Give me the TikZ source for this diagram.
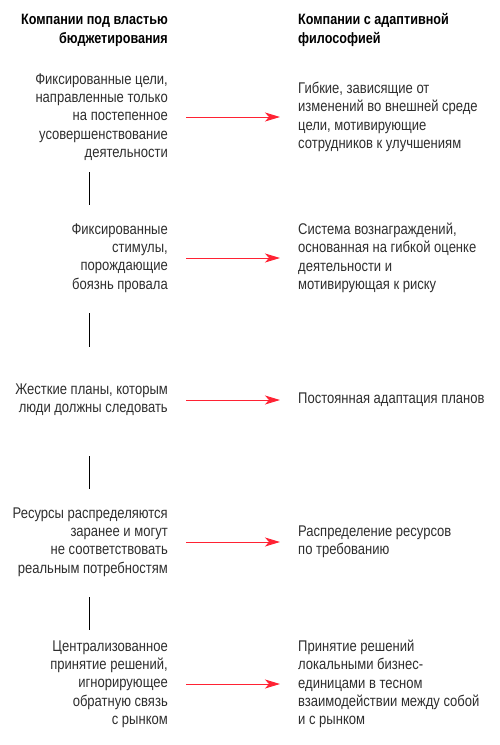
\documentclass[tikz,border=0pt]{standalone}
\usepackage{fontspec}
\setmainfont{Liberation Sans}[FakeStretch=0.84]
\usetikzlibrary{arrows.meta}
\definecolor{txt}{HTML}{2E2E2E}
\definecolor{arr}{HTML}{FF2233}
\tikzset{
  x=1pt, y=-1pt,
  lefttxt/.style={anchor=east, align=right, inner sep=0pt, text=txt,
    font=\fontsize{15.5}{18.3}\selectfont},
  righttxt/.style={anchor=west, align=left, inner sep=0pt, text=txt,
    font=\fontsize{15.5}{18.3}\selectfont},
  headl/.style={anchor=east, align=right, inner sep=0pt,
    font=\fontsize{15}{19}\selectfont\bfseries},
  headr/.style={anchor=west, align=left, inner sep=0pt,
    font=\fontsize{15}{19}\selectfont\bfseries},
  redarrow/.style={draw=arr, line width=0.9pt,
    -{Stealth[length=15pt,width=9pt,inset=4pt]},
    shorten <=18pt, shorten >=18pt},
  vline/.style={draw=black, line width=0.8pt},
}
\begin{document}
\begin{tikzpicture}
\useasboundingbox (0,0) rectangle (500,745);
% headers
\node[headl] (hl) at (168,30) {Компании под властью\\бюджетирования};
\node[headr] (hr) at (298,30) {Компании с адаптивной\\философией};
% block 1
\node[lefttxt] (l1) at (168,117) {Фиксированные цели,\\направленные только\\на постепенное\\усовершенствование\\деятельности};
\node[righttxt] (r1) at (298,117) {Гибкие, зависящие от\\изменений во внешней среде\\цели, мотивирующие\\сотрудников к улучшениям};
% block 2
\node[lefttxt] (l2) at (168,258) {Фиксированные\\стимулы,\\порождающие\\боязнь провала};
\node[righttxt] (r2) at (298,258) {Система вознаграждений,\\основанная на гибкой оценке\\деятельности и\\мотивирующая к риску};
% block 3
\node[lefttxt] (l3) at (168,400) {Жесткие планы, которым\\люди должны следовать};
\node[righttxt] (r3) at (298,400) {Постоянная адаптация планов};
% block 4
\node[lefttxt] (l4) at (168,542) {Ресурсы распределяются\\заранее и могут\\не соответствовать\\реальным потребностям};
\node[righttxt] (r4) at (298,542) {Распределение ресурсов\\по требованию};
% block 5
\node[lefttxt] (l5) at (168,684) {Централизованное\\принятие решений,\\игнорирующее\\обратную связь\\с рынком};
\node[righttxt] (r5) at (298,684) {Принятие решений\\локальными бизнес-\\единицами в тесном\\взаимодействии между собой\\и с рынком};
% arrows
\foreach \i in {1,...,5} \draw[redarrow] (l\i.east) -- (r\i.west);
% vertical separators
\coordinate (v1a) at (89,172); \coordinate (v1b) at (89,205);
\coordinate (v2a) at (89,313); \coordinate (v2b) at (89,347);
\coordinate (v3a) at (89,456); \coordinate (v3b) at (89,489);
\coordinate (v4a) at (89,597); \coordinate (v4b) at (89,630);
\foreach \i in {1,...,4} \draw[vline] (v\i a) -- (v\i b);
\end{tikzpicture}
\end{document}
